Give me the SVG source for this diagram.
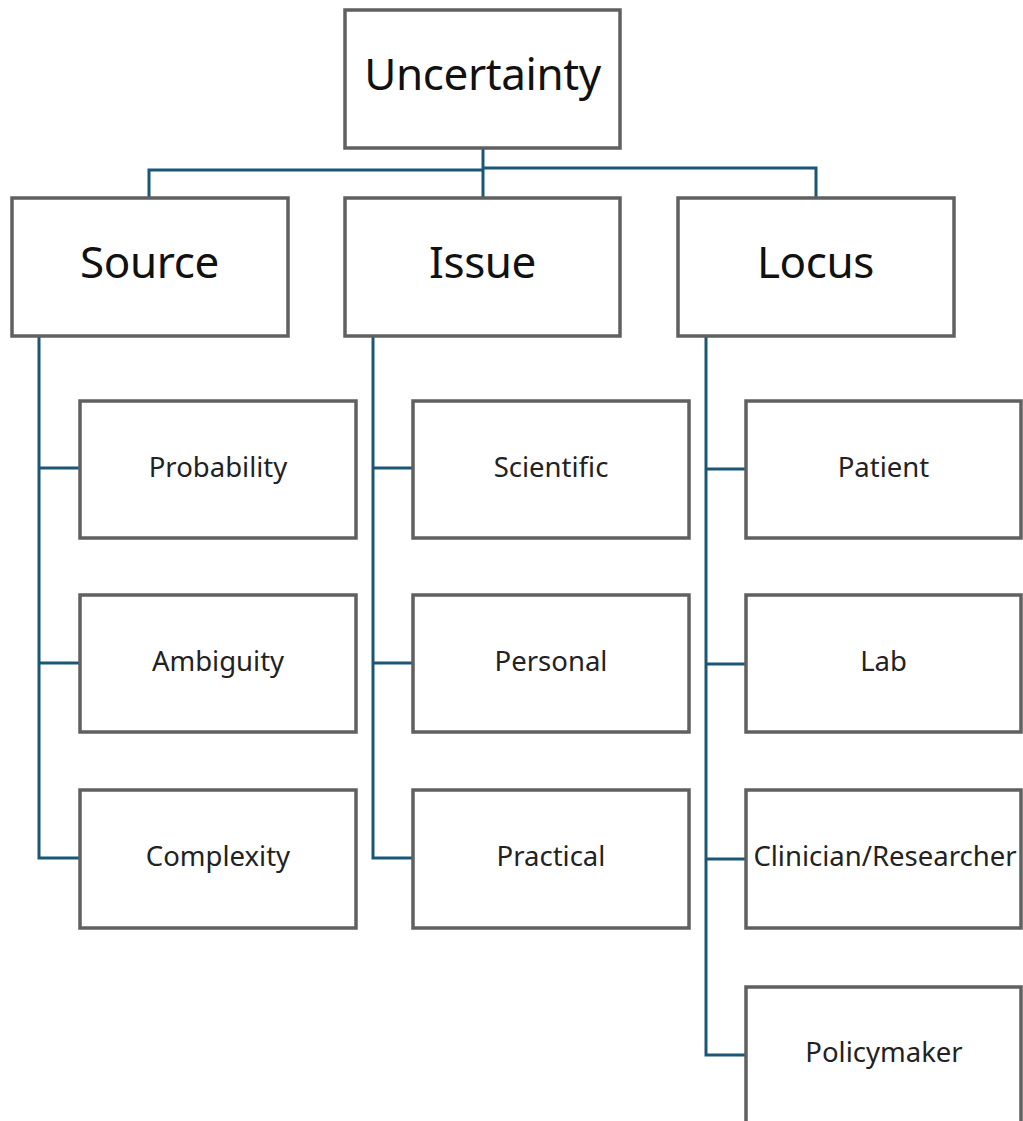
<svg xmlns="http://www.w3.org/2000/svg" width="1023" height="1121" viewBox="0 0 1023 1121">
<style>
.box{fill:#fff;stroke:#606060;stroke-width:3.5}
.con{fill:none;stroke:#1b5676;stroke-width:3}
.big{font-family:"Noto Sans","Liberation Sans",sans-serif;font-size:44px;letter-spacing:-0.4px;fill:#111;text-anchor:middle;dominant-baseline:central}
.sm{font-family:"Noto Sans","Liberation Sans",sans-serif;font-size:27.5px;fill:#222;text-anchor:middle;dominant-baseline:central}
</style>
<rect width="1023" height="1121" fill="#fff"/>
<g id="connectors">
<path class="con" d="M483 148V197"/>
<path class="con" d="M483 170H149V198"/>
<path class="con" d="M483 168H816V198"/>
<path class="con" d="M39 336V858H80M39 468H80M39 663H80"/>
<path class="con" d="M373 336V858H413M373 468H413M373 663H413"/>
<path class="con" d="M706 336V1055H746M706 469H746M706 664H746M706 859H746"/>
</g>
<g id="n-uncertainty"><rect class="box" x="345" y="10" width="275" height="138"/><text class="big" x="482.5" y="73">Uncertainty</text></g>
<g id="n-source"><rect class="box" x="12" y="198" width="276" height="138"/><text class="big" x="149.5" y="261">Source</text></g>
<g id="n-issue"><rect class="box" x="345" y="198" width="275" height="138"/><text class="big" x="482.5" y="261">Issue</text></g>
<g id="n-locus"><rect class="box" x="678" y="198" width="276" height="138"/><text class="big" x="815.5" y="261">Locus</text></g>
<g id="n-probability"><rect class="box" x="80" y="401" width="276" height="137"/><text class="sm" x="218" y="466">Probability</text></g>
<g id="n-ambiguity"><rect class="box" x="80" y="595" width="276" height="137"/><text class="sm" x="218" y="660">Ambiguity</text></g>
<g id="n-complexity"><rect class="box" x="80" y="790" width="276" height="138"/><text class="sm" x="218" y="855">Complexity</text></g>
<g id="n-scientific"><rect class="box" x="413" y="401" width="276" height="137"/><text class="sm" x="551" y="466">Scientific</text></g>
<g id="n-personal"><rect class="box" x="413" y="595" width="276" height="137"/><text class="sm" x="551" y="660">Personal</text></g>
<g id="n-practical"><rect class="box" x="413" y="790" width="276" height="138"/><text class="sm" x="551" y="855">Practical</text></g>
<g id="n-patient"><rect class="box" x="746" y="401" width="275" height="137"/><text class="sm" x="883.5" y="466">Patient</text></g>
<g id="n-lab"><rect class="box" x="746" y="595" width="275" height="137"/><text class="sm" x="883.5" y="660">Lab</text></g>
<g id="n-clinician"><rect class="box" x="746" y="790" width="275" height="138"/><text class="sm" x="885" y="855">Clinician/Researcher</text></g>
<g id="n-policymaker"><rect class="box" x="746" y="987" width="275" height="150"/><text class="sm" x="884" y="1051">Policymaker</text></g>
</svg>
